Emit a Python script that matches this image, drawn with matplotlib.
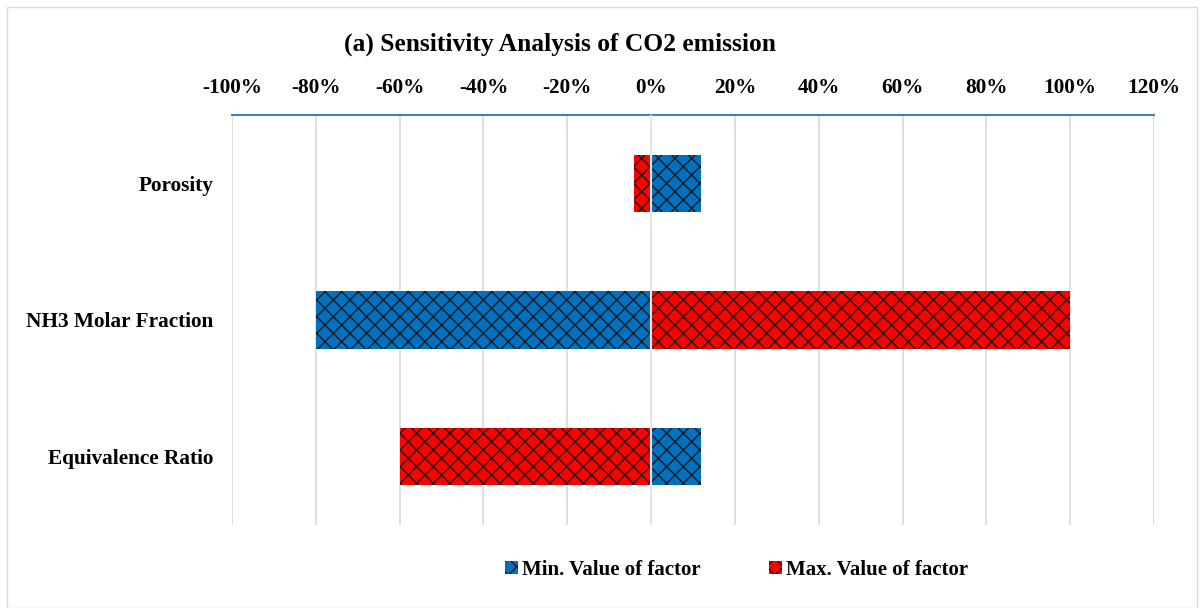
import matplotlib.pyplot as plt
from matplotlib.patches import Rectangle
from matplotlib.ticker import FuncFormatter

factors = ["Porosity", "NH3 Molar Fraction", "Equivalence Ratio"]
min_vals = [12, -80, 12]     # % change, min value of factor
max_vals = [-4, 100, -60]    # % change, max value of factor
ticks = list(range(-100, 121, 20))

plt.rcParams['font.family'] = ['Liberation Serif', 'DejaVu Serif']
plt.rcParams['font.weight'] = 'bold'
plt.rcParams['hatch.linewidth'] = 1.0

fig = plt.figure(figsize=(12.04, 6.08), dpi=100)
ax = fig.add_axes([0.1927, 0.1365, 0.7658, 0.6744])

y = list(range(len(factors)))
ax.barh(y, min_vals, height=0.42, facecolor='#0070C0', hatch='xx',
        edgecolor='#1a1a1a', linewidth=0, label='Min. Value of factor', zorder=3)
ax.barh(y, max_vals, height=0.42, facecolor='#FF0000', hatch='xx',
        edgecolor='#1a1a1a', linewidth=0, label='Max. Value of factor', zorder=3)
ax.axvline(0, color='#e6e6e6', linewidth=1.5, zorder=4)

ax.set_xlim(-100, 120)
ax.set_ylim(2.5, -0.5)
ax.set_xticks(ticks)
ax.xaxis.set_major_formatter(FuncFormatter(lambda v, p: "%d%%" % v))
ax.xaxis.tick_top()
ax.set_yticks(y)
ax.set_yticklabels(factors)
ax.tick_params(axis='both', length=0, labelsize=15.3)
ax.tick_params(axis='y', pad=13.5)
ax.tick_params(axis='x', pad=12)
ax.grid(axis='x', color='#d9d9d9', linewidth=1.2, zorder=0)

for s in ['left', 'right', 'bottom']:
    ax.spines[s].set_visible(False)
ax.spines['top'].set_color('#4A7EBB')
ax.spines['top'].set_linewidth(1.5)

fig.text(0.465, 0.927, "(a) Sensitivity Analysis of CO2 emission",
         ha='center', va='center', fontsize=18.4, fontweight='bold')

fig.legend(loc='center', bbox_to_anchor=(0.612, 0.063), ncol=2, frameon=False,
           fontsize=15, handlelength=0.6, handleheight=0.6, handletextpad=0.2,
           columnspacing=3.3)

fig.patches.append(Rectangle((0.006, 0.0), 0.988, 0.988, transform=fig.transFigure,
                             fill=False, edgecolor='#d9d9d9', linewidth=1))

plt.savefig("out.png", dpi=100)
plt.close()
